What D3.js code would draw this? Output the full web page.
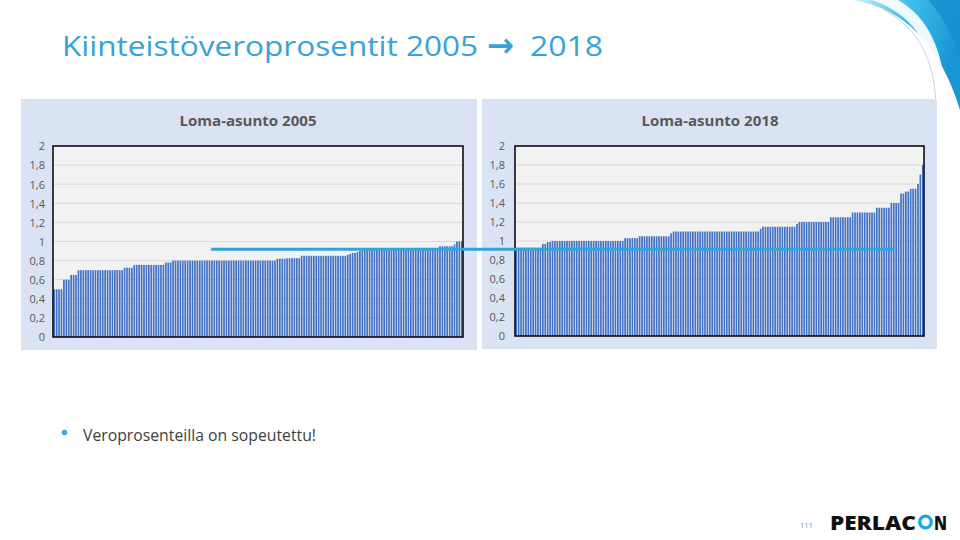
<!DOCTYPE html>
<html>
<head>
<meta charset="utf-8">
<script src="https://cdn.jsdelivr.net/npm/d3@7"></script>
<style>
  html, body { margin: 0; padding: 0; background: #fff; }
  svg { display: block; }
</style>
</head>
<body>
<svg id="slide" width="960" height="540"></svg>
<script>
/***************************************************************
    Data (sorted municipality rates)
****************************************************************/
// each chart is a sorted staircase: level value + how many bars sit on it
const levels2005 = [0.50, 0.60, 0.65, 0.70, 0.725, 0.755, 0.78, 0.80, 0.82, 0.825, 0.85,
                    0.86, 0.87, 0.88, 0.88, 0.89, 0.90, 0.91, 0.95, 0.97, 1.00];
const counts2005 = [4, 3, 3, 19, 4, 13, 3, 43, 4, 6, 19,
                    1, 1, 1, 1, 1, 1, 32, 6, 1, 3];

const levels2018 = [0.93, 0.97, 0.99, 1.00, 1.03, 1.05, 1.08, 1.10, 1.13, 1.15, 1.18,
                    1.20, 1.25, 1.30, 1.35, 1.40, 1.50, 1.52, 1.55, 1.60, 1.70, 1.80];
const counts2018 = [11, 2, 2, 30, 6, 13, 1, 36, 1, 14, 1,
                    13, 9, 10, 6, 4, 2, 2, 3, 1, 1, 1];

const yTicks = [0, 0.2, 0.4, 0.6, 0.8, 1, 1.2, 1.4, 1.6, 1.8, 2];
const yTickLabels = ["0", "0,2", "0,4", "0,6", "0,8", "1", "1,2", "1,4", "1,6", "1,8", "2"];

const chartTitles = ["Loma-asunto 2005", "Loma-asunto 2018"];

// blue comparison line: level and the bars it runs between
const refValue = 0.92;
const refFromBar2005 = 65;
const refToBar2018 = 156;

/***************************************************************
    Helpers
****************************************************************/
function expand(levels, counts) {
    let out = [];
    levels.forEach((v, i) => {
        for (let k = 0; k < counts[i]; k++) out.push(v);
    });
    return out;
}

const svg = d3.select("#slide");
const chartFont = "'Open Sans', 'Noto Sans', sans-serif";
const titleBlue = "#37a2d8";

/***************************************************************
    Slide decoration
****************************************************************/
const defs = svg.append("defs");
const g1 = defs.append("linearGradient").attr("id", "swoosh").attr("x1", "0").attr("y1", "0").attr("x2", "1").attr("y2", "0.3");
g1.append("stop").attr("offset", "0%").attr("stop-color", "#d6f1fb");
g1.append("stop").attr("offset", "50%").attr("stop-color", "#3fbdeb");
g1.append("stop").attr("offset", "100%").attr("stop-color", "#1896d4");

svg.append("path").attr("d", "M852,0 Q930,12 960,110 L960,0 Z").attr("fill", "url(#swoosh)");
svg.append("path").attr("d", "M872,0 Q936,22 938,104 L946,104 Q944,26 898,0 Z").attr("fill", "#fff").attr("opacity", 0.92);
svg.append("path").attr("d", "M884,10 Q934,36 936,104").attr("fill", "none").attr("stroke", "#9aa4ab").attr("stroke-width", 0.8).attr("opacity", 0.6);
svg.append("path").attr("d", "M928,0 Q952,26 960,62 L960,0 Z").attr("fill", "#1591d0").attr("opacity", 0.85);

// slide title: text, a heavy arrow, text
svg.append("text")
    .attr("x", 62).attr("y", 56)
    .attr("font-family", chartFont).attr("font-weight", 400)
    .attr("font-size", 28).attr("fill", titleBlue)
    .attr("textLength", 416).attr("lengthAdjust", "spacingAndGlyphs")
    .text("Kiinteistöveroprosentit 2005");
svg.append("text")
    .attr("x", 487).attr("y", 57)
    .attr("font-family", "'DejaVu Sans', sans-serif").attr("font-weight", 700)
    .attr("font-size", 34).attr("fill", titleBlue)
    .attr("textLength", 27).attr("lengthAdjust", "spacingAndGlyphs")
    .text("\u2192");
svg.append("text")
    .attr("x", 530).attr("y", 56)
    .attr("font-family", chartFont).attr("font-weight", 400)
    .attr("font-size", 28).attr("fill", titleBlue)
    .attr("textLength", 73).attr("lengthAdjust", "spacingAndGlyphs")
    .text("2018");

/***************************************************************
    Charts
****************************************************************/
const panels = [
    { x: 21, y: 99, w: 456, h: 251, left: 53, right: 463, top: 146, bottom: 337, labelX: 45, titleX: 248 },
    { x: 482, y: 99, w: 455, h: 250, left: 515, right: 924, top: 146, bottom: 336, labelX: 505, titleX: 710 }
];
const series = [expand(levels2005, counts2005), expand(levels2018, counts2018)];
const scales = [];

panels.forEach((p, i) => {
    const data = series[i];
    const x = d3.scaleBand().domain(d3.range(data.length)).range([p.left, p.right]).paddingInner(0.3).paddingOuter(0.15);
    const y = d3.scaleLinear().domain([0, 2]).range([p.bottom, p.top]);
    scales.push({ x, y });

    const g = svg.append("g");
    g.append("rect").attr("x", p.x).attr("y", p.y).attr("width", p.w).attr("height", p.h).attr("fill", "#dae3f3");
    g.append("rect").attr("x", p.left).attr("y", p.top).attr("width", p.right - p.left).attr("height", p.bottom - p.top).attr("fill", "#f2f2f2");

    g.selectAll("line.grid").data(yTicks.slice(1, -1)).enter().append("line")
        .attr("x1", p.left).attr("x2", p.right)
        .attr("y1", d => y(d)).attr("y2", d => y(d))
        .attr("stroke", "#d9d9d9").attr("stroke-width", 1);

    g.selectAll("rect.bar").data(data).enter().append("rect")
        .attr("class", "bar")
        .attr("x", (d, j) => x(j)).attr("width", x.bandwidth())
        .attr("y", d => y(d)).attr("height", d => y(0) - y(d))
        .attr("fill", "#4472c4");

    g.append("rect").attr("x", p.left).attr("y", p.top).attr("width", p.right - p.left).attr("height", p.bottom - p.top)
        .attr("fill", "none").attr("stroke", "#000").attr("stroke-width", 1.5);

    const axis = d3.axisLeft(y).tickValues(yTicks).tickSize(0).tickPadding(0)
        .tickFormat((d, k) => yTickLabels[k]);
    const ax = g.append("g").attr("transform", `translate(${p.labelX},0)`).call(axis);
    ax.select(".domain").remove();
    ax.selectAll("text").attr("font-family", chartFont).attr("font-size", 11).attr("fill", "#595959").attr("dy", "0.35em");

    g.append("text")
        .attr("x", p.titleX).attr("y", 126).attr("text-anchor", "middle")
        .attr("font-family", chartFont).attr("font-weight", 700).attr("font-size", 15)
        .attr("fill", "#595959").attr("textLength", 137).attr("lengthAdjust", "spacingAndGlyphs")
        .text(chartTitles[i]);
});

// comparison line across both charts
svg.append("line")
    .attr("x1", scales[0].x(refFromBar2005))
    .attr("x2", scales[1].x(refToBar2018) + scales[1].x.bandwidth())
    .attr("y1", scales[0].y(refValue)).attr("y2", scales[0].y(refValue))
    .attr("stroke", "#2fa5dc").attr("stroke-width", 3);

/***************************************************************
    Bullet text, page number, logo
****************************************************************/
svg.append("circle").attr("cx", 64.5).attr("cy", 432.5).attr("r", 2.8).attr("fill", "#3aa6d8");
svg.append("text").attr("x", 83).attr("y", 441).attr("font-family", chartFont).attr("font-size", 15.5)
    .attr("fill", "#404040").attr("textLength", 233).attr("lengthAdjust", "spacingAndGlyphs")
    .text("Veroprosenteilla on sopeutettu!");

svg.append("text").attr("x", 800).attr("y", 528).attr("font-family", chartFont).attr("font-size", 7.5)
    .attr("fill", "#4aa3c8").text("111");

svg.append("text").attr("x", 830).attr("y", 529.5).attr("font-family", chartFont).attr("font-weight", 800)
    .attr("font-size", 20).attr("fill", "#111").attr("textLength", 86).attr("lengthAdjust", "spacingAndGlyphs")
    .text("PERLAC");
svg.append("circle").attr("cx", 925.5).attr("cy", 522).attr("r", 5.8)
    .attr("fill", "none").attr("stroke", "#19a9dc").attr("stroke-width", 3.3);
svg.append("text").attr("x", 934).attr("y", 529.5).attr("font-family", chartFont).attr("font-weight", 800)
    .attr("font-size", 20).attr("fill", "#111").attr("textLength", 13).attr("lengthAdjust", "spacingAndGlyphs")
    .text("N");
</script>
</body>
</html>
